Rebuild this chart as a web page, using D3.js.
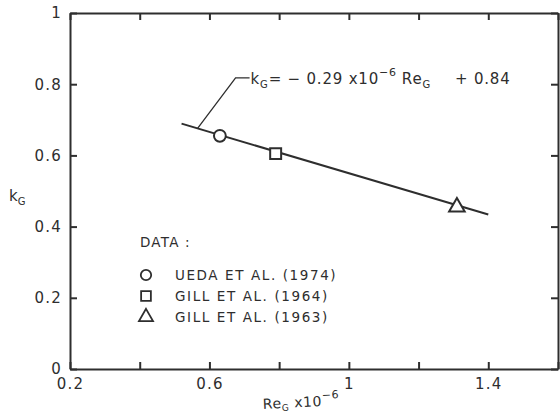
<!DOCTYPE html>
<html>
<head>
<meta charset="utf-8">
<script src="https://cdn.jsdelivr.net/npm/d3@7"></script>
<style>
  body { margin: 0; background: #fff; }
  text { font-family: "DejaVu Sans", "Liberation Sans", sans-serif; fill: #2e2e2e; }
</style>
</head>
<body>
<div id="chart"></div>
<script>
// chart size
var svgWidth = 560;
var svgHeight = 417;

var margin = { top: 13, right: 2, bottom: 48, left: 70 };
var width = svgWidth - margin.left - margin.right;
var height = svgHeight - margin.top - margin.bottom;

// data
var seriesNames = ["UEDA ET AL. (1974)", "GILL ET AL. (1964)", "GILL ET AL. (1963)"];
var seriesShapes = ["circle", "square", "triangle"];
var reValues = [0.63, 0.79, 1.31];
var kValues = [0.655, 0.605, 0.455];

// fitted line kG = -0.29e-6 ReG + 0.84
var fitSlope = -0.29;
var fitIntercept = 0.84;
var fitRange = [0.52, 1.4];

var xTicks = [0.2, 0.4, 0.6, 0.8, 1.0, 1.2, 1.4, 1.6];
var xLabelTicks = [0.2, 0.6, 1.0, 1.4];
var yTicks = [0, 0.2, 0.4, 0.6, 0.8, 1.0];

var ink = "#2e2e2e";

var svg = d3.select("#chart")
  .append("svg")
  .attr("width", svgWidth)
  .attr("height", svgHeight);

var chartGroup = svg.append("g")
  .attr("transform", `translate(${margin.left}, ${margin.top})`);

var xScale = d3.scaleLinear().domain([0.2, 1.6]).range([0, width]);
var yScale = d3.scaleLinear().domain([0, 1]).range([height, 0]);

var fmt = d => (d === 0 || d === 1) ? String(d) : d3.format(".1f")(d);

// axes, ticks pointing inwards
var bottomAxis = d3.axisBottom(xScale)
  .tickValues(xTicks)
  .tickSizeInner(-7).tickSizeOuter(0).tickPadding(9)
  .tickFormat(d => xLabelTicks.some(v => Math.abs(v - d) < 1e-9) ? fmt(d) : "");
var topAxis = d3.axisTop(xScale)
  .tickValues(xTicks).tickSizeInner(-7).tickSizeOuter(0).tickFormat("");
var leftAxis = d3.axisLeft(yScale)
  .tickValues(yTicks).tickSizeInner(-7).tickSizeOuter(0).tickPadding(8)
  .tickFormat(fmt);
var rightAxis = d3.axisRight(yScale)
  .tickValues(yTicks).tickSizeInner(-7).tickSizeOuter(0).tickFormat("");

function styleAxis(g) {
  g.selectAll("path, line").attr("stroke", ink).attr("stroke-width", 2);
  g.selectAll("text")
    .attr("font-size", 15)
    .attr("letter-spacing", 1.2)
    .style("fill", ink);
}

chartGroup.append("g").attr("transform", `translate(0, ${height})`).call(bottomAxis).call(styleAxis);
chartGroup.append("g").call(topAxis).call(styleAxis);
chartGroup.append("g").call(leftAxis).call(styleAxis);
chartGroup.append("g").attr("transform", `translate(${width}, 0)`).call(rightAxis).call(styleAxis);

// fitted line
var fitLine = d3.line()
  .x(d => xScale(d))
  .y(d => yScale(fitSlope * d + fitIntercept));

chartGroup.append("path")
  .datum(fitRange)
  .attr("d", fitLine)
  .attr("fill", "none")
  .attr("stroke", ink)
  .attr("stroke-width", 2);

// marker symbols
function symbolFor(shape, size) {
  var type = shape === "circle" ? d3.symbolCircle : shape === "square" ? d3.symbolSquare : d3.symbolTriangle;
  return d3.symbol().type(type).size(size)();
}
var plotSizes = { circle: 110, square: 120, triangle: 105 };
var legendSizes = { circle: 85, square: 95, triangle: 85 };

chartGroup.selectAll(".pt")
  .data(reValues)
  .enter()
  .append("path")
  .attr("class", "pt")
  .attr("transform", (d, i) => `translate(${xScale(d)}, ${yScale(kValues[i])})`)
  .attr("d", (d, i) => symbolFor(seriesShapes[i], plotSizes[seriesShapes[i]]))
  .attr("fill", "white")
  .attr("stroke", ink)
  .attr("stroke-width", 2);

// equation annotation with leader line
var leaderRe = 0.566;
var lx = xScale(leaderRe), ly = yScale(fitSlope * leaderRe + fitIntercept);
var ex = xScale(0.675), ey = yScale(0.818);
chartGroup.append("polyline")
  .attr("points", `${lx},${ly} ${ex},${ey} ${ex + 14},${ey}`)
  .attr("fill", "none")
  .attr("stroke", ink)
  .attr("stroke-width", 1.3);

var eq = chartGroup.append("text")
  .attr("x", ex + 15)
  .attr("y", ey + 6)
  .attr("font-size", 15)
  .attr("letter-spacing", 0.8);
eq.append("tspan").text("k");
eq.append("tspan").attr("font-size", 10).attr("dy", 4).text("G");
eq.append("tspan").attr("dy", -4).text("= \u2212 0.29 x10");
eq.append("tspan").attr("font-size", 11).attr("dy", -8).text("\u22126");
eq.append("tspan").attr("dy", 8).attr("dx", 5).text("Re");
eq.append("tspan").attr("font-size", 10).attr("dy", 4).text("G");
eq.append("tspan").attr("dy", -4).attr("dx", 24).text("+ 0.84");

// axis titles
var yTitle = svg.append("text")
  .attr("x", 9)
  .attr("y", 201)
  .attr("font-size", 15);
yTitle.append("tspan").text("k");
yTitle.append("tspan").attr("font-size", 10).attr("dy", 4).text("G");

var xTitle = svg.append("text")
  .attr("transform", "translate(263, 409) rotate(-3)")
  .attr("font-size", 14)
  .attr("letter-spacing", 0.6);
xTitle.append("tspan").text("Re");
xTitle.append("tspan").attr("font-size", 9).attr("dy", 3).text("G");
xTitle.append("tspan").attr("dy", -3).attr("dx", 5).text("x10");
xTitle.append("tspan").attr("font-size", 11).attr("dy", -7).text("\u22126");

// legend
var legend = svg.append("g").attr("transform", "translate(140, 0)");
legend.append("text")
  .attr("x", 0).attr("y", 247)
  .attr("font-size", 13.5).attr("letter-spacing", 1.2)
  .text("DATA :");

var legendRows = legend.selectAll(".row")
  .data(seriesNames)
  .enter()
  .append("g")
  .attr("class", "row")
  .attr("transform", (d, i) => `translate(0, ${275 + i * 21})`);

legendRows.append("path")
  .attr("transform", "translate(6, 0)")
  .attr("d", (d, i) => symbolFor(seriesShapes[i], legendSizes[seriesShapes[i]]))
  .attr("fill", "white")
  .attr("stroke", ink)
  .attr("stroke-width", 1.8);

legendRows.append("text")
  .attr("x", 35)
  .attr("y", 5)
  .attr("font-size", 13.5)
  .attr("letter-spacing", 1.6)
  .text(d => d);
</script>
</body>
</html>
